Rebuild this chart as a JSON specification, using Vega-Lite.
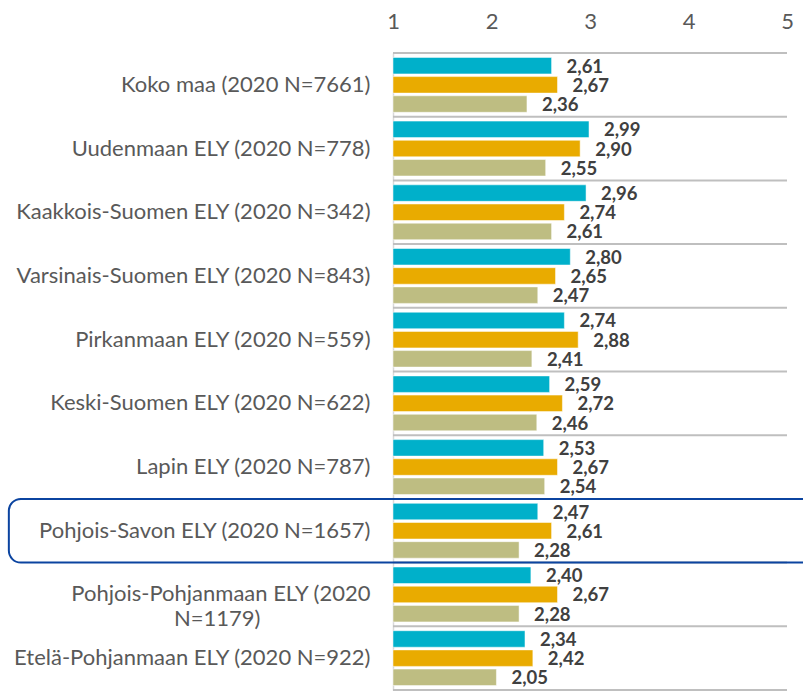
{
  "$schema": "https://vega.github.io/schema/vega-lite/v6.json",
  "autosize": {"type": "none"},
  "padding": {"left": 393, "top": 53, "right": 16, "bottom": 2},
  "width": 394,
  "height": 637,
  "background": "white",
  "config": {
    "view": {"stroke": null},
    "font": "Lato",
    "locale": {"number": {"decimal": ",", "thousands": " ", "grouping": [3], "currency": ["", " €"]}}
  },
  "datasets": {
    "bars": [
      {"region": "Koko maa (2020 N=7661)", "series": "2020", "value": 2.61},
      {"region": "Koko maa (2020 N=7661)", "series": "2019", "value": 2.67},
      {"region": "Koko maa (2020 N=7661)", "series": "2018", "value": 2.36},
      {"region": "Uudenmaan ELY (2020 N=778)", "series": "2020", "value": 2.99},
      {"region": "Uudenmaan ELY (2020 N=778)", "series": "2019", "value": 2.90},
      {"region": "Uudenmaan ELY (2020 N=778)", "series": "2018", "value": 2.55},
      {"region": "Kaakkois-Suomen ELY (2020 N=342)", "series": "2020", "value": 2.96},
      {"region": "Kaakkois-Suomen ELY (2020 N=342)", "series": "2019", "value": 2.74},
      {"region": "Kaakkois-Suomen ELY (2020 N=342)", "series": "2018", "value": 2.61},
      {"region": "Varsinais-Suomen ELY (2020 N=843)", "series": "2020", "value": 2.80},
      {"region": "Varsinais-Suomen ELY (2020 N=843)", "series": "2019", "value": 2.65},
      {"region": "Varsinais-Suomen ELY (2020 N=843)", "series": "2018", "value": 2.47},
      {"region": "Pirkanmaan ELY (2020 N=559)", "series": "2020", "value": 2.74},
      {"region": "Pirkanmaan ELY (2020 N=559)", "series": "2019", "value": 2.88},
      {"region": "Pirkanmaan ELY (2020 N=559)", "series": "2018", "value": 2.41},
      {"region": "Keski-Suomen ELY (2020 N=622)", "series": "2020", "value": 2.59},
      {"region": "Keski-Suomen ELY (2020 N=622)", "series": "2019", "value": 2.72},
      {"region": "Keski-Suomen ELY (2020 N=622)", "series": "2018", "value": 2.46},
      {"region": "Lapin ELY (2020 N=787)", "series": "2020", "value": 2.53},
      {"region": "Lapin ELY (2020 N=787)", "series": "2019", "value": 2.67},
      {"region": "Lapin ELY (2020 N=787)", "series": "2018", "value": 2.54},
      {"region": "Pohjois-Savon ELY (2020 N=1657)", "series": "2020", "value": 2.47},
      {"region": "Pohjois-Savon ELY (2020 N=1657)", "series": "2019", "value": 2.61},
      {"region": "Pohjois-Savon ELY (2020 N=1657)", "series": "2018", "value": 2.28},
      {"region": "Pohjois-Pohjanmaan ELY (2020 N=1179)", "series": "2020", "value": 2.40},
      {"region": "Pohjois-Pohjanmaan ELY (2020 N=1179)", "series": "2019", "value": 2.67},
      {"region": "Pohjois-Pohjanmaan ELY (2020 N=1179)", "series": "2018", "value": 2.28},
      {"region": "Etelä-Pohjanmaan ELY (2020 N=922)", "series": "2020", "value": 2.34},
      {"region": "Etelä-Pohjanmaan ELY (2020 N=922)", "series": "2019", "value": 2.42},
      {"region": "Etelä-Pohjanmaan ELY (2020 N=922)", "series": "2018", "value": 2.05}
    ],
    "highlight": [
      {"region": "Pohjois-Savon ELY (2020 N=1657)", "start": -2.9, "end": 5.35}
    ]
  },
  "layer": [
    {
      "data": {"name": "bars"},
      "transform": [{"filter": "datum.series == '2020'"}],
      "mark": {"type": "rule", "stroke": "#BFBFBF", "strokeWidth": 2},
      "encoding": {
        "y": {"field": "region", "type": "nominal", "bandPosition": 0,
          "sort": ["Koko maa (2020 N=7661)", "Uudenmaan ELY (2020 N=778)", "Kaakkois-Suomen ELY (2020 N=342)", "Varsinais-Suomen ELY (2020 N=843)", "Pirkanmaan ELY (2020 N=559)", "Keski-Suomen ELY (2020 N=622)", "Lapin ELY (2020 N=787)", "Pohjois-Savon ELY (2020 N=1657)", "Pohjois-Pohjanmaan ELY (2020 N=1179)", "Etelä-Pohjanmaan ELY (2020 N=922)"]}
      }
    },
    {
      "data": {"name": "bars"},
      "transform": [{"filter": "datum.series == '2020' && datum.region == 'Etelä-Pohjanmaan ELY (2020 N=922)'"}],
      "mark": {"type": "rule", "stroke": "#BFBFBF", "strokeWidth": 2},
      "encoding": {
        "y": {"field": "region", "type": "nominal", "bandPosition": 1,
          "sort": ["Koko maa (2020 N=7661)", "Uudenmaan ELY (2020 N=778)", "Kaakkois-Suomen ELY (2020 N=342)", "Varsinais-Suomen ELY (2020 N=843)", "Pirkanmaan ELY (2020 N=559)", "Keski-Suomen ELY (2020 N=622)", "Lapin ELY (2020 N=787)", "Pohjois-Savon ELY (2020 N=1657)", "Pohjois-Pohjanmaan ELY (2020 N=1179)", "Etelä-Pohjanmaan ELY (2020 N=922)"]}
      }
    },
    {
      "data": {"name": "bars"},
      "mark": {"type": "bar", "stroke": "white", "strokeWidth": 0.5},
      "encoding": {
        "y": {"field": "region", "type": "nominal",
          "sort": ["Koko maa (2020 N=7661)", "Uudenmaan ELY (2020 N=778)", "Kaakkois-Suomen ELY (2020 N=342)", "Varsinais-Suomen ELY (2020 N=843)", "Pirkanmaan ELY (2020 N=559)", "Keski-Suomen ELY (2020 N=622)", "Lapin ELY (2020 N=787)", "Pohjois-Savon ELY (2020 N=1657)", "Pohjois-Pohjanmaan ELY (2020 N=1179)", "Etelä-Pohjanmaan ELY (2020 N=922)"],
          "scale": {"paddingInner": 0, "paddingOuter": 0},
          "axis": {
            "title": null, "ticks": false, "domain": true, "domainColor": "#D9D9D9", "domainWidth": 1.5,
            "labelFont": "Lato", "labelFontSize": 22, "labelColor": "#595959", "labelPadding": 23, "labelLimit": 400,
            "labelLineHeight": 25,
            "labelExpr": "datum.value == 'Pohjois-Pohjanmaan ELY (2020 N=1179)' ? ['Pohjois-Pohjanmaan ELY (2020', 'N=1179)\u2002\u2002\u2002\u2002\u2002\u2002\u2002\u2002\u2002\u2002\u2060'] : datum.value"
          }
        },
        "yOffset": {"field": "series", "type": "nominal", "sort": ["2020", "2019", "2018"],
          "scale": {"paddingInner": 0.14, "paddingOuter": 0.23}},
        "x": {"field": "value", "type": "quantitative",
          "scale": {"domain": [1, 5], "zero": false, "nice": false},
          "axis": {"orient": "top", "title": null, "values": [1, 2, 3, 4, 5], "format": "d", "grid": false, "domain": false, "ticks": false, "labelFlush": false,
            "labelFont": "Lato", "labelFontSize": 22, "labelColor": "#595959", "labelPadding": 20}},
        "x2": {"datum": 1},
        "color": {"field": "series", "type": "nominal", "legend": null,
          "scale": {"domain": ["2020", "2019", "2018"], "range": ["#00B0CA", "#E9AB00", "#BEBD82"]}}
      }
    },
    {
      "data": {"name": "bars"},
      "mark": {"type": "text", "align": "left", "baseline": "middle", "dx": 15, "dy": 1, "fontWeight": "bold", "fontSize": 18.5, "font": "Lato", "color": "#404040"},
      "encoding": {
        "y": {"field": "region", "type": "nominal",
          "sort": ["Koko maa (2020 N=7661)", "Uudenmaan ELY (2020 N=778)", "Kaakkois-Suomen ELY (2020 N=342)", "Varsinais-Suomen ELY (2020 N=843)", "Pirkanmaan ELY (2020 N=559)", "Keski-Suomen ELY (2020 N=622)", "Lapin ELY (2020 N=787)", "Pohjois-Savon ELY (2020 N=1657)", "Pohjois-Pohjanmaan ELY (2020 N=1179)", "Etelä-Pohjanmaan ELY (2020 N=922)"]},
        "yOffset": {"field": "series", "type": "nominal", "sort": ["2020", "2019", "2018"]},
        "x": {"field": "value", "type": "quantitative"},
        "text": {"field": "value", "type": "quantitative", "format": ".2f"}
      }
    },
    {
      "data": {"name": "highlight"},
      "mark": {"type": "rect", "fill": null, "fillOpacity": 0, "stroke": "#0B44A0", "strokeWidth": 2, "cornerRadius": 12, "clip": false},
      "encoding": {
        "y": {"field": "region", "type": "nominal",
          "sort": ["Koko maa (2020 N=7661)", "Uudenmaan ELY (2020 N=778)", "Kaakkois-Suomen ELY (2020 N=342)", "Varsinais-Suomen ELY (2020 N=843)", "Pirkanmaan ELY (2020 N=559)", "Keski-Suomen ELY (2020 N=622)", "Lapin ELY (2020 N=787)", "Pohjois-Savon ELY (2020 N=1657)", "Pohjois-Pohjanmaan ELY (2020 N=1179)", "Etelä-Pohjanmaan ELY (2020 N=922)"]},
        "x": {"field": "start", "type": "quantitative"},
        "x2": {"field": "end"}
      }
    }
  ]
}
